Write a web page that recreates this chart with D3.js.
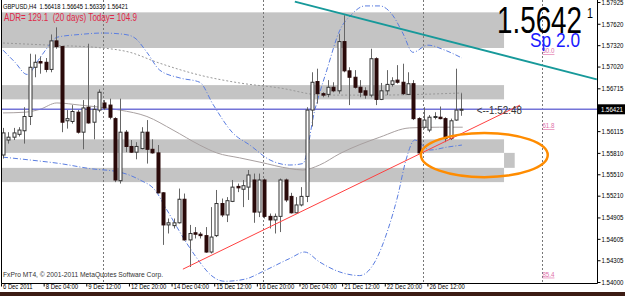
<!DOCTYPE html>
<html lang="en">
  <head>
    <meta charset="UTF-8" />
    <title>GBPUSD H4</title>
    <script src="https://cdn.jsdelivr.net/npm/d3@7"></script>
    <style>
      body {
        margin: 0;
        overflow: hidden;
        background: #fff;
      }
      text {
        font-family: "Liberation Sans", Arial, sans-serif;
      }
    </style>
  </head>
  <body>
    <script>
      const W = 625;
      const H = 296;

      // H4 candles, bar 0 = 6 Dec 2011
      const opens = [
        1.5578, 1.5599, 1.5603, 1.5607, 1.5612, 1.5632, 1.5701, 1.5709, 1.5708, 1.5698,
        1.5738, 1.573, 1.5626, 1.5625, 1.5638, 1.561, 1.5645, 1.5624, 1.5641, 1.5651,
        1.5648, 1.5629, 1.5542, 1.561, 1.559, 1.5582, 1.5587, 1.561, 1.5586, 1.5581,
        1.5525, 1.548, 1.5479, 1.5483, 1.5516, 1.5459, 1.5469, 1.5467, 1.5465, 1.5442,
        1.5465, 1.551, 1.5494, 1.5513, 1.5534, 1.553, 1.5533, 1.5543, 1.5498, 1.5543,
        1.5492, 1.5487, 1.5492, 1.5543, 1.552, 1.5497, 1.5508, 1.552, 1.5641, 1.5681,
        1.5664, 1.5663, 1.5673, 1.5668, 1.5737, 1.5696, 1.5687, 1.5673, 1.5668, 1.5662,
        1.5713, 1.5656, 1.5668, 1.5677, 1.5683, 1.568, 1.5663, 1.5678, 1.5629, 1.5617,
        1.5613, 1.5631, 1.5631, 1.5629, 1.5601, 1.5627, 1.56418,
      ];
      const highs = [
        1.5616, 1.561, 1.5616, 1.5617, 1.5645, 1.572, 1.5719, 1.5716, 1.5714, 1.5747,
        1.5757, 1.5731, 1.5641, 1.5648, 1.5641, 1.5655, 1.5734, 1.5648, 1.567, 1.5655,
        1.5657, 1.5631, 1.5657, 1.5613, 1.5599, 1.5596, 1.5617, 1.5627, 1.56, 1.5592,
        1.5526, 1.5489, 1.5489, 1.5531, 1.5524, 1.548, 1.5477, 1.547, 1.5477, 1.5505,
        1.5529, 1.5517, 1.5519, 1.5543, 1.5538, 1.5543, 1.5557, 1.5552, 1.5552, 1.5545,
        1.5496, 1.5496, 1.5545, 1.5545, 1.5525, 1.5519, 1.5533, 1.5645, 1.5694, 1.5699,
        1.5666, 1.5683, 1.568, 1.5748, 1.5774, 1.5701, 1.5697, 1.5683, 1.5673, 1.5727,
        1.5715, 1.5679, 1.5697, 1.5687, 1.5704, 1.5706, 1.5694, 1.5683, 1.5631, 1.5645,
        1.5634, 1.5638, 1.5646, 1.5631, 1.5629, 1.5699, 1.56645,
      ];
      const lows = [
        1.5573, 1.5594, 1.5599, 1.5604, 1.5594, 1.562, 1.5687, 1.5692, 1.5694, 1.5694,
        1.5727, 1.561, 1.5615, 1.5622, 1.5608, 1.5586, 1.5622, 1.56, 1.5638, 1.5641,
        1.5628, 1.554, 1.5538, 1.5582, 1.5581, 1.5572, 1.5586, 1.5566, 1.558, 1.5524,
        1.5452, 1.5468, 1.5475, 1.5482, 1.5458, 1.5421, 1.5461, 1.5461, 1.5441, 1.544,
        1.5463, 1.5491, 1.5484, 1.5512, 1.5526, 1.5505, 1.5515, 1.5483, 1.5491, 1.5489,
        1.5475, 1.5468, 1.547, 1.5512, 1.5496, 1.5496, 1.5506, 1.5512, 1.5618, 1.565,
        1.5659, 1.5659, 1.5666, 1.5664, 1.5694, 1.5648, 1.5671, 1.5659, 1.5657, 1.5659,
        1.5648, 1.5655, 1.5662, 1.5674, 1.5678, 1.5662, 1.5662, 1.5627, 1.558, 1.5615,
        1.561, 1.5628, 1.5628, 1.5596, 1.5599, 1.5626, 1.5633,
      ];
      const closes = [
        1.5609, 1.5603, 1.5609, 1.5613, 1.5632, 1.5701, 1.5708, 1.5707, 1.5698, 1.5738,
        1.573, 1.5624, 1.5629, 1.5639, 1.561, 1.5644, 1.5623, 1.5642, 1.5666, 1.5644,
        1.5631, 1.5543, 1.561, 1.559, 1.5582, 1.559, 1.561, 1.5586, 1.5581, 1.5525,
        1.548, 1.5483, 1.5483, 1.5516, 1.5459, 1.5468, 1.5467, 1.5465, 1.5442, 1.5463,
        1.551, 1.5494, 1.5514, 1.5533, 1.5532, 1.5535, 1.555, 1.5498, 1.5543, 1.5492,
        1.5487, 1.5492, 1.5543, 1.5515, 1.5497, 1.5508, 1.552, 1.5641, 1.568, 1.5664,
        1.5662, 1.5673, 1.5668, 1.5737, 1.5696, 1.5687, 1.5673, 1.5666, 1.5662, 1.5713,
        1.5656, 1.5668, 1.5677, 1.5682, 1.568, 1.5664, 1.5678, 1.5629, 1.5581, 1.5627,
        1.5631, 1.5632, 1.5629, 1.5601, 1.5626, 1.5641, 1.56421,
      ];

      const timeBars = [0, 8, 16, 24, 32, 40, 48, 56, 64, 72, 80];
      const timeLabels = [
        "6 Dec 2011", "8 Dec 04:00", "9 Dec 12:00", "12 Dec 20:00", "14 Dec 04:00",
        "15 Dec 12:00", "16 Dec 20:00", "20 Dec 04:00", "21 Dec 12:00",
        "22 Dec 20:00", "26 Dec 12:00",
      ];
      const priceTicks = [
        1.57925, 1.5762, 1.5732, 1.5702, 1.56715, 1.56115, 1.5581, 1.5551,
        1.5521, 1.54905, 1.54605, 1.54305, 1.54,
      ];
      const bid = 1.56421;
      const weekStarts = [19, 49, 79];

      // supply / demand zones [from bar, to bar, top, bottom]
      const zones = [
        [-1, 94, 1.5778, 1.5728],
        [-1, 94, 1.5676, 1.5656],
        [-1, 94, 1.56, 1.5581],
        [-1, 94, 1.556, 1.554],
        [94, 96, 1.5581, 1.556],
      ];

      // indicator lines: [bar, price]
      const maSlow = [
        [0, 1.5735], [8.8, 1.5732], [18.75, 1.5728], [23.8, 1.5722], [28.9, 1.5708],
        [36.9, 1.569], [44.4, 1.5679], [51.9, 1.5672], [60, 1.5662], [70.7, 1.5662],
        [78.2, 1.5663], [86.1, 1.5665],
      ];
      const maMid = [
        [0, 1.5637], [4.1, 1.5638], [6.9, 1.5642], [10.1, 1.5651], [14.4, 1.5648],
        [18.2, 1.5645], [21.9, 1.5641], [27, 1.5632], [31.9, 1.5613], [36.9, 1.5592],
        [40.1, 1.5581], [44.4, 1.5574], [48.2, 1.5568], [53.8, 1.5559], [56.25, 1.5557],
        [59.4, 1.5564], [63.2, 1.558], [70.7, 1.5603], [76.3, 1.5616], [81.9, 1.5617],
        [86.25, 1.5617],
      ];
      const bandUpper = [
        [0, 1.5725], [2.25, 1.5708], [4.5, 1.5691], [6.9, 1.5714], [8.8, 1.5733],
        [10.1, 1.5743], [14.4, 1.5747], [18.75, 1.5749], [22.9, 1.5747], [24.75, 1.5742],
        [27, 1.5722], [29.4, 1.5697], [33.2, 1.5686], [36.9, 1.568], [39.4, 1.5649],
        [43.1, 1.5609], [46.3, 1.5592], [50.1, 1.5571], [53.8, 1.5564], [56.25, 1.5566],
        [58.5, 1.5641], [60.75, 1.5697], [63.2, 1.5753], [65.4, 1.5775], [67.9, 1.5787],
        [70.7, 1.5787], [73.1, 1.5774], [75, 1.5749], [76.9, 1.5722], [79.7, 1.5732],
        [82.9, 1.5725], [86.1, 1.5714],
      ];
      const bandLower = [
        [0, 1.5575], [5.1, 1.5571], [10.7, 1.5566], [16.3, 1.5559], [21.9, 1.5554],
        [25.7, 1.5543], [28.5, 1.5529], [30.75, 1.5501], [34.5, 1.5454], [36.9, 1.5428],
        [38.8, 1.5411], [41.6, 1.5401], [45.4, 1.5404], [49.1, 1.5416], [53.8, 1.5433],
        [56.6, 1.5442], [59.4, 1.5428], [63.2, 1.5414], [66.9, 1.5409], [69.75, 1.5428],
        [72.2, 1.5473], [74.1, 1.5522], [75.6, 1.5571], [77.25, 1.5599], [80.1, 1.5585],
        [83.25, 1.5589], [86.1, 1.5592],
      ];
      const teal = [[54.75, 1.5793], [111.4, 1.5684]];
      const redLine = [[33.75, 1.5418], [97, 1.5648]];
      const ellipse = { from: 78.4, to: 102.2, top: 1.5609, bottom: 1.5547 };
      const fibBar = 101.3;
      const fibLevels = [
        ["50.0", 1.5724],
        ["61.8", 1.5619],
        ["85.4", 1.5411],
      ];

      const x = d3.scaleLinear().domain([0, 86]).range([3, 461.4]);
      const y = d3.scaleLinear().domain([1.54, 1.57925]).range([282, 2]);
      const plotRight = 597;
      const plotBottom = 283;

      const svg = d3
        .select("body")
        .append("svg")
        .attr("width", W)
        .attr("height", H);

      svg.append("rect").attr("width", W).attr("height", H).attr("fill", "#fff");

      svg
        .append("clipPath")
        .attr("id", "plot")
        .append("rect")
        .attr("x", 1.5)
        .attr("y", 0)
        .attr("width", plotRight - 1.5)
        .attr("height", plotBottom);

      const plot = svg.append("g").attr("clip-path", "url(#plot)");

      // zones
      plot
        .selectAll(".zone")
        .data(zones)
        .join("rect")
        .attr("x", (d) => x(d[0]))
        .attr("width", (d) => x(d[1]) - x(d[0]))
        .attr("y", (d) => y(d[2]))
        .attr("height", (d) => y(d[3]) - y(d[2]))
        .attr("fill", "#c4c4c4");

      // week separators + fibo vertical
      plot
        .selectAll(".sep")
        .data([...weekStarts, fibBar])
        .join("line")
        .attr("x1", (d) => Math.round(x(d) - 1) + 0.5)
        .attr("x2", (d) => Math.round(x(d) - 1) + 0.5)
        .attr("y1", 0)
        .attr("y2", plotBottom)
        .attr("stroke", "#777")
        .attr("stroke-dasharray", "2,2");

      const line = d3
        .line()
        .x((d) => x(d[0]))
        .y((d) => y(d[1]))
        .curve(d3.curveMonotoneX);

      plot
        .append("path")
        .attr("d", line(maSlow))
        .attr("fill", "none")
        .attr("stroke", "#999")
        .attr("stroke-dasharray", "2,2");

      plot
        .append("path")
        .attr("d", line(maMid))
        .attr("fill", "none")
        .attr("stroke", "#a8a0a0");

      plot
        .selectAll(".band")
        .data([bandUpper, bandLower])
        .join("path")
        .attr("d", (d) => line(d))
        .attr("fill", "none")
        .attr("stroke", "#5a7de0")
        .attr("stroke-dasharray", "5,2,1,2");

      // bid line
      plot
        .append("line")
        .attr("x1", 0)
        .attr("x2", plotRight)
        .attr("y1", y(bid))
        .attr("y2", y(bid))
        .attr("stroke", "#7474d8")
        .attr("stroke-width", 1.6);

      // candles
      const bars = d3.range(opens.length).map((i) => ({
        i,
        o: opens[i],
        h: highs[i],
        l: lows[i],
        c: closes[i],
      }));

      const candle = plot.selectAll(".candle").data(bars).join("g");
      candle
        .append("line")
        .attr("x1", (d) => Math.round(x(d.i)) + 0.5)
        .attr("x2", (d) => Math.round(x(d.i)) + 0.5)
        .attr("y1", (d) => y(d.h))
        .attr("y2", (d) => y(d.l))
        .attr("stroke", "#666");
      candle
        .append("rect")
        .attr("x", (d) => Math.round(x(d.i)) - 1)
        .attr("width", 3)
        .attr("y", (d) => y(Math.max(d.o, d.c)))
        .attr("height", (d) => Math.max(1, Math.abs(y(d.o) - y(d.c))))
        .attr("fill", (d) => (d.c >= d.o ? "#fff" : "#2a0a0a"))
        .attr("stroke", (d) => (d.c >= d.o ? "#333" : "#2a0a0a"))
        .attr("stroke-width", 1);

      // trend lines
      plot
        .selectAll(".trend")
        .data([
          [teal, "#17999a", 2],
          [redLine, "#ff4040", 1],
        ])
        .join("line")
        .attr("x1", (d) => x(d[0][0][0]))
        .attr("y1", (d) => y(d[0][0][1]))
        .attr("x2", (d) => x(d[0][1][0]))
        .attr("y2", (d) => y(d[0][1][1]))
        .attr("stroke", (d) => d[1])
        .attr("stroke-width", (d) => d[2]);

      plot
        .append("ellipse")
        .attr("cx", (x(ellipse.from) + x(ellipse.to)) / 2)
        .attr("cy", (y(ellipse.top) + y(ellipse.bottom)) / 2)
        .attr("rx", (x(ellipse.to) - x(ellipse.from)) / 2)
        .attr("ry", (y(ellipse.bottom) - y(ellipse.top)) / 2)
        .attr("fill", "none")
        .attr("stroke", "#ff8c00")
        .attr("stroke-width", 2.5);

      // fibo labels
      plot
        .selectAll(".fib")
        .data(fibLevels)
        .join("text")
        .attr("x", x(fibBar) - 0.5)
        .attr("y", (d) => y(d[1]) + 2.5)
        .attr("font-size", 6.5)
        .attr("fill", "#e070a8")
        .attr("text-decoration", "underline")
        .attr("textLength", 12)
        .attr("lengthAdjust", "spacingAndGlyphs")
        .text((d) => d[0]);

      plot
        .append("text")
        .attr("x", x(88.9))
        .attr("y", y(bid) + 4.5)
        .attr("font-size", 10)
        .attr("fill", "#333")
        .attr("textLength", 45)
        .attr("lengthAdjust", "spacingAndGlyphs")
        .text("<--1:52:48");

      // frame
      svg
        .append("path")
        .attr("d", `M1.5,0V${plotBottom + 0.5}H${plotRight + 0.5}V0`)
        .attr("fill", "none")
        .attr("stroke", "#000");

      // price axis
      const yAxis = svg
        .append("g")
        .attr("transform", `translate(${plotRight + 0.5},0)`)
        .call(
          d3
            .axisRight(y)
            .tickValues(priceTicks)
            .tickFormat(d3.format(".5f"))
            .tickSize(3)
            .tickPadding(1)
        );
      yAxis.select(".domain").remove();
      yAxis
        .selectAll("text")
        .attr("font-size", 7)
        .attr("font-family", null)
        .attr("fill", "#000")
        .attr("textLength", 22)
        .attr("lengthAdjust", "spacingAndGlyphs");

      svg
        .append("rect")
        .attr("x", plotRight + 1)
        .attr("y", y(bid) - 5)
        .attr("width", W - plotRight - 1)
        .attr("height", 10)
        .attr("fill", "#000");
      svg
        .append("text")
        .attr("x", plotRight + 4)
        .attr("y", y(bid) + 2.5)
        .attr("font-size", 7)
        .attr("fill", "#fff")
        .attr("textLength", 22)
        .attr("lengthAdjust", "spacingAndGlyphs")
        .text(d3.format(".5f")(bid));

      // time axis
      const xAxis = svg
        .append("g")
        .attr("transform", `translate(-2,${plotBottom + 0.5})`)
        .call(
          d3
            .axisBottom(x)
            .tickValues(timeBars)
            .tickFormat((d, i) => timeLabels[i])
            .tickSize(3)
        );
      xAxis.select(".domain").remove();
      xAxis
        .selectAll("text")
        .attr("font-size", 7)
        .attr("font-family", null)
        .attr("fill", "#000")
        .attr("text-anchor", "start")
        .attr("x", 1.5)
        .attr("y", 1)
        .attr("textLength", (d, i) => timeLabels[i].length * 2.95)
        .attr("lengthAdjust", "spacingAndGlyphs");

      svg
        .append("rect")
        .attr("x", 0)
        .attr("y", 292)
        .attr("width", W)
        .attr("height", 4)
        .attr("fill", "#3c1c14");

      // header texts
      svg
        .append("text")
        .attr("x", 3)
        .attr("y", 8.5)
        .attr("font-size", 7)
        .attr("fill", "#000")
        .attr("textLength", 125)
        .attr("lengthAdjust", "spacingAndGlyphs")
        .style("white-space", "pre")
        .text("GBPUSD,H4  1.56418 1.56645 1.56330 1.56421");

      svg
        .append("text")
        .attr("x", 4)
        .attr("y", 20.5)
        .attr("font-size", 10)
        .attr("fill", "#e02848")
        .attr("textLength", 133)
        .attr("lengthAdjust", "spacingAndGlyphs")
        .style("white-space", "pre")
        .text("ADR= 129.1  (20 days) Today= 104.9");

      svg
        .append("text")
        .attr("x", 497)
        .attr("y", 33)
        .attr("font-size", 37)
        .attr("fill", "#000")
        .attr("textLength", 85)
        .attr("lengthAdjust", "spacingAndGlyphs")
        .text("1.5642");
      svg
        .append("text")
        .attr("x", 587)
        .attr("y", 18)
        .attr("font-size", 15)
        .attr("fill", "#000")
        .attr("textLength", 6)
        .attr("lengthAdjust", "spacingAndGlyphs")
        .text("1");
      svg
        .append("text")
        .attr("x", 530)
        .attr("y", 47)
        .attr("font-size", 20)
        .attr("fill", "#1a1aff")
        .attr("textLength", 50)
        .attr("lengthAdjust", "spacingAndGlyphs")
        .text("Sp 2.0");

      svg
        .append("text")
        .attr("x", 3)
        .attr("y", 277)
        .attr("font-size", 7)
        .attr("fill", "#333")
        .attr("textLength", 160)
        .attr("lengthAdjust", "spacingAndGlyphs")
        .text("FxPro MT4, © 2001-2011 MetaQuotes Software Corp.");
    </script>
  </body>
</html>
